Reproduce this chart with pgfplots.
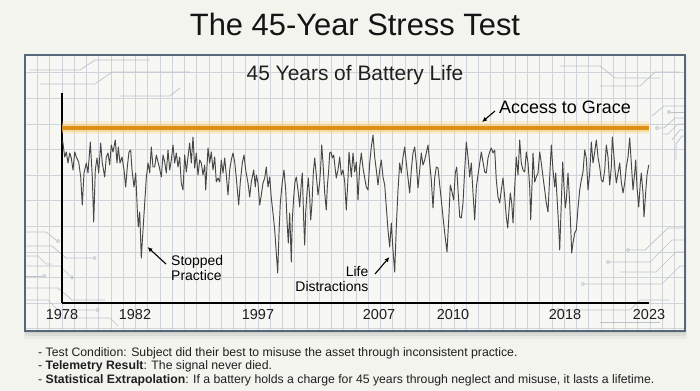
\documentclass[border=0pt]{standalone}
\usepackage{fontspec}
\setmainfont{Liberation Sans}
\usepackage{pgfplots}
\usepackage{pgfplotstable}
\pgfplotsset{compat=1.18}
\usetikzlibrary{arrows.meta}
\definecolor{bgc}{RGB}{244,244,239}
\definecolor{panelc}{RGB}{247,247,243}
\definecolor{gridc}{RGB}{207,211,218}
\definecolor{framec}{RGB}{88,102,124}
\definecolor{tracec}{RGB}{188,194,204}
\definecolor{linec}{RGB}{72,72,72}
\definecolor{gracec}{RGB}{220,144,24}
\definecolor{glowc}{RGB}{247,205,120}

\pgfplotstableread{
x y
62.7 162
64.7 146
66.3 151
68 140
69.7 150
71.3 145
73 133
74.7 151
76.3 146
78.7 141
80.7 126
82.3 98
84 130
86.3 140
88 130
90.3 161
92.3 126
93.7 81
95.3 133
97 145
98.7 130
100.7 160
102.3 140
104.7 126
106.3 146
108 150
109.7 138
111.3 158
113 151
115.3 163
117 140
118.3 156
120 140
122 146
124 133
125.7 116
127.3 136
129 151
130.7 153
132 133
134 116
135.7 130
137.3 93
138.3 76
139.7 91
141.3 45
143 73
144.7 100
146.3 125
148 140
149.7 130
151.3 156
153 136
154.7 136
156.3 148
158 141
159.3 136
161.3 126
163 148
164.7 141
166.3 130
168 153
169.7 133
171.3 143
173 158
174.7 140
176.3 150
178 136
179.7 146
181.3 120
183 113
184.7 148
186.3 131
188 146
189.7 160
191.3 140
193 166
194.7 135
196.3 150
198 128
199.7 143
201.3 140
203 128
204.7 138
205.7 113
208 155
209.7 140
211.3 151
213 133
214.7 146
216.3 121
218 125
219.7 121
221.3 143
223 130
224.7 145
226.3 128
228 108
229.7 133
231.3 143
233 150
234.7 141
236.3 125
238.7 98
240.3 121
242.3 140
244 148
245.7 133
248 120
249.7 106
251.3 121
253.7 133
255.3 116
256.3 128
258 120
259.7 98
261.3 108
263 120
264.7 125
266.3 136
268 116
269.7 126
271.3 105
273 90
274.7 73
276.3 50
277.7 30
279 70
280.3 100
282.3 121
284 133
285.7 113
287 83
288.3 60
289.7 90
291.3 41
292.3 83
293.7 106
295 121
296.3 126
298 113
299.7 96
301.3 120
302.3 130
303.7 83
304.7 58
305.7 91
307 110
308.3 125
309.7 106
310.7 83
312 100
313.3 130
314.7 145
316.3 128
318 108
319.7 121
320.7 136
321.7 158
323 140
324.7 110
326.3 93
327.3 116
328.7 133
329.7 150
331 151
332.3 145
333.7 148
335 136
336.3 125
338 133
339.7 146
341.3 128
343 133
344.7 121
346.3 93
348 125
349 151
351.3 126
353 150
354.7 131
356.3 141
358 103
359.7 136
361.3 150
363 135
364.7 125
366.3 116
368 113
369.7 140
371.3 156
373 168
374.7 146
376.3 133
378 118
379.7 133
381.3 143
383 126
384.7 118
386.3 96
388 73
389.7 56
391.3 80
393 53
394.7 31
396.3 76
398 113
399.7 140
401.3 130
403 146
404.7 156
406.3 140
408 125
409.7 110
411.3 133
413 150
414.7 156
416.3 140
418 115
419.7 133
421.3 150
423 138
424.7 143
426.3 150
428 158
429.7 140
431.3 123
433 95
434.7 125
436.3 136
438 135
439.7 118
441.3 103
443 86
444.7 70
447 51
448.7 83
450.3 118
452 111
453.7 103
455.3 130
456.7 136
458 113
459.7 86
461.3 85
463 100
464.7 133
466.3 161
468 146
469.7 126
471.3 140
473 110
474.7 83
476.3 116
478 128
479.7 140
481.3 151
483 141
484.7 131
486.3 130
488 145
489.7 151
491.3 155
493 150
494.7 153
496.3 123
498 106
499.7 100
501.3 113
503 125
504.7 106
506.3 86
507.7 75
509 93
510.3 110
511.7 100
513 80
514.7 116
516.3 146
518 128
519.7 163
521.3 140
523 133
524.7 131
526.3 151
528 140
529.7 116
530.7 83
532.3 126
533 150
534.7 121
536.3 126
538 130
539.7 151
541.3 140
543 126
544.7 113
546.3 100
548 91
549.7 126
551.3 158
553 133
554.7 116
555.7 130
557 106
558.7 76
559.7 53
561.3 100
562.7 141
564 116
565.3 95
566.3 103
568 130
569.7 100
570.7 76
571.7 50
573 60
574.7 70
576.3 73
578 95
579.7 113
581.3 123
583 131
584.7 153
586.3 145
588 113
589.7 130
591.3 161
593 140
594.7 151
596.3 163
598 146
599.7 136
601.3 123
603 121
604.7 133
606.3 158
608 146
609.7 118
611.3 136
612.3 166
613.7 150
615 133
616.3 120
618 130
619.7 140
621.3 121
623 110
624.7 120
626.3 136
628 146
629.7 165
631.3 140
633 113
634.7 130
635.7 143
637 116
638.7 96
640.3 120
641.3 130
643 110
644 86
645.7 111
647 128
648.7 138
}\signal

\begin{document}
\begin{tikzpicture}
\useasboundingbox (0,0) rectangle (700bp,391bp);
\fill[bgc] (0,0) rectangle (700bp,391bp);
\begin{scope}[x=1bp,y=-1bp,shift={(0,391bp)}]
  % shadow
  \fill[black,opacity=0.04] (24,58) rectangle (687,339);
  \fill[black,opacity=0.06] (25,57) rectangle (686,336);
  \fill[black,opacity=0.08] (25,56) rectangle (685,333);
  % panel
  \fill[panelc] (25,55) rectangle (685,331);
  % grid paper
  \foreach \i in {-3,...,50} {
    \draw[gridc, line width=0.55bp] ({62+12.25*\i},55) -- ({62+12.25*\i},331);
  }
  \foreach \k in {-1,...,9} {
    \draw[gridc, line width=0.55bp] (25,{303-25.6*\k}) -- (685,{303-25.6*\k});
  }
  % circuit traces
  \begin{scope}[tracec, line width=0.7bp]
    \draw (25,232) -- (46,232) -- (56,240);
    \draw (58,241) circle (1.6);
    \draw (25,246) -- (52,246) -- (66,258) -- (92,258);
    \draw (94.5,258) circle (1.6);
    \draw (25,256) -- (38,256) -- (46,264) -- (52,264);
    \draw (25,266) -- (60,266) -- (70,276);
    \draw (72,277.5) circle (1.6);
    \draw (25,276) -- (42,276);
    \draw (44,276) circle (1.6);
    \draw (25,288) -- (58,288) -- (72,300) -- (105,300);
    \draw (25,300) -- (48,300) -- (58,310) -- (95,310);
    \draw (97.5,310) circle (1.6);
    \draw (60,318) -- (110,318) -- (118,326);
    \draw (30,70) -- (80,70) -- (95,60) -- (150,60);
    \draw (40,84) -- (95,84) -- (112,72) -- (190,72);
    \draw (120,96) -- (170,96) -- (180,88);
    \draw (685,106) -- (664,106) -- (652,116);
    \draw (685,112) -- (671,112);
    \draw (669,112) circle (1.6);
    \draw (685,118) -- (675,118) -- (664,128) -- (659,128);
    \draw (657,128) circle (1.6);
    \draw (685,124) -- (678,124) -- (668,134) -- (662,134);
    \draw (685,130) -- (680,130) -- (672,140);
    \draw (685,136) -- (682,136) -- (676,144) -- (676,160);
    \draw (560,66) -- (600,66) -- (615,78) -- (660,78);
    \draw (600,86) -- (640,86) -- (655,72) -- (680,72);
    \draw (685,228) -- (668,228) -- (645,250) -- (630,250);
    \draw (628,250) circle (1.6);
    \draw (685,240) -- (672,240) -- (650,262) -- (610,262);
    \draw (608,262) circle (1.6);
    \draw (685,252) -- (676,252) -- (656,272) -- (620,272);
    \draw (685,266) -- (680,266) -- (662,284) -- (585,284);
    \draw (583,284) circle (1.6);
    \draw (670,300) -- (640,300) -- (630,310) -- (560,310);
    \draw (558,310) circle (1.6);
    \draw (660,322) -- (600,322);
  \end{scope}
  % frame
  \draw[framec, line width=1.3bp] (25,55) rectangle (685,331);
  % titles
  \node[anchor=base, font=\fontsize{31}{36}\selectfont, text=black!92] at (355,36) {The 45-Year Stress Test};
  \node[anchor=base, font=\fontsize{21}{25}\selectfont, text=black!88] at (355,81) {45 Years of Battery Life};
  % notes
  \node[anchor=base west, inner sep=0pt, font=\fontsize{12.3}{14}\selectfont, text=black!88] at (38,356.5) {- Test Condition: Subject did their best to misuse the asset through inconsistent practice.};
  \node[anchor=base west, inner sep=0pt, font=\fontsize{12.3}{14}\selectfont, text=black!88] at (38,370) {- \textbf{Telemetry Result}: The signal never died.};
  \node[anchor=base west, inner sep=0pt, font=\fontsize{12.3}{14}\selectfont, text=black!88] at (38,383.5) {- \textbf{Statistical Extrapolation}: If a battery holds a charge for 45 years through neglect and misuse, it lasts a lifetime.};
\end{scope}

\begin{axis}[
  at={(62bp,88bp)}, anchor=south west,
  scale only axis, width=587bp, height=210bp,
  xmin=62, xmax=649, ymin=0, ymax=210,
  axis lines=left,
  axis line style={-, black, line width=1.1bp},
  xtick={62,135,258,379,453,565,649},
  xticklabels={1978,1982,1997,2007,2010,2018,2023},
  ytick=\empty,
  major tick length=0pt,
  xticklabel style={anchor=base, yshift=-17bp, font=\fontsize{14.5}{16}\selectfont, text=black!88},
  clip=false,
]
  \addplot[glowc, line width=13bp, opacity=0.25] coordinates {(62,175) (649,175)};
  \addplot[glowc, line width=8.5bp, opacity=0.55] coordinates {(62,175) (649,175)};
  \addplot[gracec, line width=4.5bp] coordinates {(62,175) (649,175)};
  \addplot[linec, line width=0.95bp, line join=round] table[x=x, y=y] {\signal};

  \node[anchor=base west, inner sep=0pt, font=\fontsize{18}{21}\selectfont] at (axis cs:499,189.7) {Access to Grace};
  \draw[-{Latex[length=5bp,width=4.5bp]}, line width=1.1bp] (axis cs:495,192) -- (axis cs:482,181);

  \node[anchor=base west, inner sep=0pt, font=\fontsize{14}{16}\selectfont] at (axis cs:171,37) {Stopped};
  \node[anchor=base west, inner sep=0pt, font=\fontsize{14}{16}\selectfont] at (axis cs:171,22.3) {Practice};
  \draw[-{Latex[length=5bp,width=4.5bp]}, line width=1.1bp] (axis cs:166,39) -- (axis cs:147.5,56);

  \node[anchor=base east, inner sep=0pt, font=\fontsize{14}{16}\selectfont] at (axis cs:368.5,26.3) {Life};
  \node[anchor=base east, inner sep=0pt, font=\fontsize{14}{16}\selectfont] at (axis cs:368.5,11.3) {Distractions};
  \draw[-{Latex[length=5bp,width=4.5bp]}, line width=1.1bp] (axis cs:375,29) -- (axis cs:389.5,46);
\end{axis}
\end{tikzpicture}
\end{document}
